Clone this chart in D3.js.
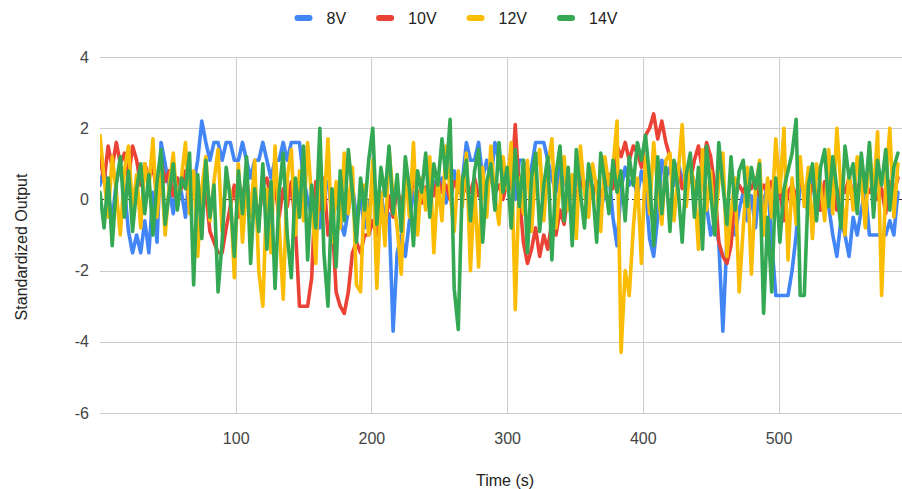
<!DOCTYPE html>
<html>
<head>
<meta charset="utf-8">
<script src="https://cdn.jsdelivr.net/npm/d3@7"></script>
<style>
  html, body { margin: 0; padding: 0; background: #fff; }
  svg { display: block; font-family: Arial, "Liberation Sans", sans-serif; }
</style>
</head>
<body>
<svg id="chart" width="902" height="489"></svg>
<script>
// ---- data (one sample every 3 s) ----
const seriesNames = ["8V", "10V", "12V", "14V"];
const seriesColors = ["#4285F4", "#EA4335", "#FBBC04", "#34A853"];
const timeStep = 3;
const yTicks = [4, 2, 0, -2, -4, -6];
const xTicks = [100, 200, 300, 400, 500];

const v8 = [
  0.4, 0.9, 0.2, -0.6, 0.5, 1.0, 0.3, -0.9, -1.5, -1.0,
  -1.5, -0.6, -1.5, 0.2, -1.2, 1.6, 1.0, 0.3, -0.4, 0.6,
  0.2, -0.5, 0.8, 0.4, 1.1, 2.2, 1.6, 1.1, 1.6, 1.6,
  1.1, 1.6, 1.6, 1.1, 1.1, 1.6, 1.1, 0.6, 1.1, 1.1,
  1.6, 1.1, 0.6, 1.1, 1.1, 1.6, 1.1, 1.6, 1.6, 1.6,
  0.6, 0.0, -0.5, 0.3, -0.8, 0.2, 0.5, -0.4, 0.1, -0.6,
  -1.0, -0.3, 0.4, -0.5, 0.0, -0.8, -0.2, 0.3, -0.5, 0.2,
  -0.6, -0.4, -3.7, -1.5, -1.0, -1.6, -0.6, 0.2, -0.3, 0.4,
  0.3, -0.2, 0.5, 0.1, 0.6, -0.1, 0.4, 0.8, 0.2, 0.5,
  1.6, 1.1, 1.1, 1.6, 0.6, 1.1, 0.5, 1.6, 1.1, 0.6,
  0.3, 0.5, 0.0, 1.1, 1.1, 0.6, 0.9, 1.6, 1.6, 1.6,
  1.1, 0.6, 0.2, 0.9, 0.4, 0.7, 0.1, 0.5, 0.8, 0.3,
  0.6, 0.1, 0.4, -0.3, 0.2, 0.7, -0.5, -1.3, 0.3, 0.9,
  0.4, 0.6, 0.1, 0.8, 0.3, -1.1, -1.6, -0.5, 1.1, 0.6,
  0.9, 0.4, 1.0, 0.6, 0.2, 0.8, 0.5, 0.1, 0.7, -0.2,
  -1.0, -0.6, -1.2, -3.7, -1.1, -0.5, -1.0, -0.3, 0.2, -0.6,
  0.1, -0.8, 0.4, -0.2, 0.5, -1.2, -2.7, -2.7, -2.7, -2.7,
  -2.0, -1.0, 0.5, 0.2, -0.4, 0.6, 0.1, -0.3, 0.4, -0.2,
  -1.0, -1.6, -0.6, -1.0, -1.6, -0.5, -1.0, -0.3, 0.3, -1.0,
  -1.0, -1.0, -1.0, -1.0, -0.6, -1.0, 0.2
];
const v10 = [
  1.2, 0.5, 1.5, 0.9, 1.6, 1.0, 1.3, 0.6, 1.5, 1.1,
  0.4, 1.0, 0.6, 0.9, 0.2, 1.1, 0.5, 0.8, 0.1, 0.6,
  0.3, 0.8, -0.2, 0.5, 0.1, -0.4, 0.2, -0.9, -1.2, -1.5,
  -1.5, -0.8, -0.2, 0.4, -0.5, 0.1, 0.6, -0.3, 0.2, -0.6,
  0.4, 0.6, 0.0, 0.4, -0.5, 0.3, -0.2, 0.5, -0.8, -3.0,
  -3.0, -3.0, -2.2, 0.5, -0.3, 0.6, -1.0, -0.5, -2.6, -3.0,
  -3.2, -2.6, -1.5, -1.2, -1.5, -1.0, -1.0, -0.6, -1.0, -0.3,
  -0.8, 0.1, -0.5, 0.3, -0.2, 0.4, 0.0, 0.5, 0.2, -0.1,
  0.3, 0.5, 0.1, 0.6, 0.2, 0.4, 0.0, 0.5, 0.3, 0.1,
  0.4, 0.2, 0.6, 0.1, 0.5, 0.3, 0.7, 0.2, 0.4, 0.0,
  0.5, 0.3, 2.1, 0.2, -1.2, -1.8, -1.4, -0.8, -1.6, -1.0,
  -1.4, -0.6, -1.0, -0.3, -0.7, 0.2, 0.4, 0.1, 0.5, 0.3,
  0.6, 0.2, 0.5, 0.1, 0.4, 0.7, 0.3, 1.5, 1.2, 1.6,
  1.1, 1.5, 1.3, 0.9, 1.8, 2.0, 2.4, 1.7, 2.2, 1.6,
  1.2, 0.6, 0.9, 0.3, 0.7, 0.5, 1.1, 1.5, 0.8, 1.6,
  1.2, 0.4, -1.2, -1.6, -1.8, -1.3, 0.1, 0.4, 0.2, 0.5,
  0.3, 0.6, 0.1, 0.4, 0.2, 0.5, 0.0, 0.3, -0.6, 0.2,
  0.4, 0.1, 0.5, 0.3, 0.0, 0.4, 0.2, -0.3, 0.5, 0.1,
  0.3, -0.3, 0.4, 0.2, 0.6, 0.1, 0.4, 0.3, 0.5, 0.2,
  0.4, 0.0, 0.3, -0.4, 0.5, 0.2, 0.6
];
const v12 = [
  1.8, 0.6, -0.5, 1.2, 0.2, -1.0, 0.8, 1.5, -0.3, 0.7,
  -0.8, 1.0, 0.3, 1.7, -0.5, 0.9, -1.0, 0.4, 1.3, -0.2,
  0.6, 1.6, -0.4, 0.8, -1.6, 0.3, 1.2, -0.6, 0.5, 1.4,
  -0.9, 0.7, 0.2, -2.2, 1.0, -1.2, 0.4, -0.5, 1.1, -2.0,
  -3.0, 0.3, -1.5, 1.5, -0.7, -2.8, 0.6, 1.4, -1.0, 0.8,
  -0.6, 1.6, 0.0, -1.8, 1.2, -0.3, 1.7, -1.2, 0.5, -0.8,
  1.3, -0.4, 0.9, -2.4, -2.6, 0.4, -1.0, 1.1, -2.5, 0.2,
  -1.3, 1.4, 0.1, -0.8, -2.1, 0.9, -0.5, 1.6, -1.0, 0.6,
  -0.3, 1.2, -1.5, 0.5, -0.6, 1.5, 0.2, -0.9, 0.8, -0.2,
  1.3, -2.0, 0.4, -1.9, 0.9, -0.5, 1.5, 0.1, -0.7, 1.2,
  0.3, 1.6, -3.1, 0.6, -0.4, 1.1, -0.9, 0.8, 1.4, -0.6,
  0.9, 1.7, -0.8, 0.4, 1.2, -0.3, 0.7, -1.1, 1.5, 0.2,
  -0.5, 1.0, 0.3, -0.9, 1.2, 0.4, 0.9, 2.2, -4.3, -2.0,
  -2.7, -0.8, 0.6, -1.8, 1.2, -0.4, 1.6, 0.3, -0.7, 1.1,
  1.3, -0.6, 0.7, 2.1, -0.2, 1.0, 0.4, -1.4, 1.4, -0.3,
  0.8, -0.9, 0.5, 1.3, -1.6, -0.4, 0.6, -2.6, -0.8, 0.9,
  -2.1, 0.3, 1.1, -1.0, 0.6, -0.5, 1.7, 0.2, 2.0, -1.7,
  0.6, -0.7, 1.2, -0.2, 0.9, -1.1, 1.0, 0.4, -0.6, 1.4,
  -0.4, 2.0, 0.3, -1.0, 0.8, -0.3, 1.2, 0.5, -0.8, 1.5,
  0.1, 1.9, -2.7, 0.4, 2.0, -0.5, 1.0
];
const v14 = [
  0.2, -0.8, 0.6, -1.3, 0.4, 1.2, -0.5, 0.8, -0.9, 0.3,
  1.0, -0.4, 0.7, -1.0, 0.5, 1.4, -0.7, 0.2, 1.0, -0.3,
  0.6, 0.3, 1.3, -2.4, 0.7, -1.1, 1.1, -0.5, 0.4, -2.6,
  -1.2, 0.9, 0.0, -1.6, 0.8, -0.4, 1.2, -1.8, 0.3, -0.9,
  1.0, -1.4, 0.5, -2.5, 0.2, 1.3, -1.0, -2.2, 0.6, -0.5,
  1.5, -1.7, 0.4, -0.8, 2.0, -1.5, -3.0, 0.3, -1.9, 0.8,
  -0.6, 1.4, 0.2, -1.2, 0.6, -0.3, 1.1, 2.0, -0.7, 0.9,
  0.1, 1.5, -0.4, 0.7, -0.9, 1.2, 0.3, -1.3, 0.8, 0.2,
  1.3, -0.5, 1.0, 0.4, 1.7, 0.6, 2.25, -2.5, -3.65, 0.5,
  1.1, -0.6, 0.8, 1.4, -1.2, 0.5, 1.0, -0.3, 1.6, 0.2,
  0.9, -0.8, 1.4, -0.2, 1.1, -1.5, 0.6, 1.3, -0.9, 0.4,
  1.2, -1.7, 0.7, 1.5, -0.6, 0.9, -1.3, 1.4, 0.2, -0.8,
  1.0, 0.3, -1.2, 1.3, 0.5, -0.4, 1.1, 0.2, 0.8, -0.6,
  1.2, 0.4, 1.6, 1.1, 1.8, 0.6, -1.3, 1.2, -0.4, 0.9,
  -0.9, 1.1, 0.3, -1.2, 0.7, 1.3, -0.5, 0.9, -1.4, 1.5,
  0.2, -1.0, 1.6, 0.4, -0.7, 1.2, -0.3, 0.8, 1.1, -0.2,
  0.9, 0.3, 1.0, -3.2, -0.5, -2.6, 0.6, -1.2, 0.3, 0.8,
  1.3, 2.25, -2.7, -2.7, 0.4, 1.0, -0.6, 0.9, 1.4, -0.2,
  1.2, 0.3, -0.8, 1.5, 0.6, 1.0, -0.4, 1.3, 0.2, 1.6,
  -0.5, 1.1, 0.4, 1.4, -0.3, 0.9, 1.3
];
const seriesValues = [v8, v10, v12, v14];

// ---- layout ----
const W = 902, H = 489;
const plot = { left: 100, right: 902, top: 57, bottom: 413 };

const svg = d3.select("#chart");
const x = d3.scaleLinear().domain([0, 591]).range([plot.left, plot.right]);
const y = d3.scaleLinear().domain([-6, 4]).range([plot.bottom, plot.top]);

// gridlines
const grid = svg.append("g");
grid.selectAll("line.h").data(yTicks.filter(d => d !== 0)).join("line")
  .attr("x1", plot.left).attr("x2", plot.right)
  .attr("y1", d => Math.round(y(d)) + 0.5).attr("y2", d => Math.round(y(d)) + 0.5)
  .attr("stroke", "#cccccc").attr("stroke-width", 1);
grid.selectAll("line.v").data(xTicks).join("line")
  .attr("x1", d => Math.round(x(d)) + 0.5).attr("x2", d => Math.round(x(d)) + 0.5)
  .attr("y1", plot.top).attr("y2", plot.bottom)
  .attr("stroke", "#cccccc").attr("stroke-width", 1);
// baseline
grid.append("line")
  .attr("x1", plot.left).attr("x2", plot.right)
  .attr("y1", Math.round(y(0)) + 0.5).attr("y2", Math.round(y(0)) + 0.5)
  .attr("stroke", "#333").attr("stroke-width", 1.2)
  .attr("stroke-dasharray", "4,3");

// axes (labels only)
const yAxis = d3.axisLeft(y).tickValues(yTicks).tickSize(0).tickPadding(0).tickFormat(d => String(d));
const gy = svg.append("g").attr("transform", `translate(${plot.left - 11},0)`).call(yAxis);
gy.select(".domain").remove();
gy.selectAll("text").attr("fill", "#444").attr("font-size", 16).attr("font-family", "Arial, 'Liberation Sans', sans-serif");

const xAxis = d3.axisBottom(x).tickValues(xTicks).tickSize(0).tickPadding(0);
const gx = svg.append("g").attr("transform", `translate(0,${plot.bottom + 20})`).call(xAxis);
gx.select(".domain").remove();
gx.selectAll("text").attr("fill", "#444").attr("font-size", 16).attr("font-family", "Arial, 'Liberation Sans', sans-serif");

// clip
svg.append("clipPath").attr("id", "clip").append("rect")
  .attr("x", plot.left).attr("y", 0).attr("width", plot.right - plot.left).attr("height", H);

const line = d3.line()
  .x((d, i) => x(i * timeStep))
  .y(d => y(d))
  .curve(d3.curveLinear);

svg.append("g").attr("clip-path", "url(#clip)")
  .selectAll("path").data(seriesValues).join("path")
  .attr("d", d => line(d))
  .attr("fill", "none")
  .attr("stroke", (d, i) => seriesColors[i])
  .attr("stroke-width", 3.6)
  .attr("stroke-linejoin", "round")
  .attr("stroke-linecap", "round");

// axis titles
svg.append("text").attr("x", 505).attr("y", 486)
  .attr("text-anchor", "middle").attr("font-size", 16).attr("fill", "#222")
  .text("Time (s)");
svg.append("text")
  .attr("transform", `translate(27,${(plot.top + plot.bottom) / 2 + 12}) rotate(-90)`)
  .attr("text-anchor", "middle").attr("font-size", 16).attr("fill", "#222")
  .text("Standardized Output");

// legend
const legend = svg.append("g").attr("transform", "translate(0,18)");
const items = legend.selectAll("g").data(seriesNames).join("g");
items.append("rect").attr("width", 18).attr("height", 6).attr("y", -3).attr("rx", 3)
  .attr("fill", (d, i) => seriesColors[i]);
items.append("text").attr("x", 32).attr("y", 6).attr("font-size", 16).attr("fill", "#222")
  .text(d => d);
let cx = 0;
const offs = [];
items.each(function () {
  offs.push(cx);
  const w = this.querySelector("text").getComputedTextLength();
  cx += 32 + w + 30;
});
const totalW = cx - 30;
const start = 456 - totalW / 2;
items.attr("transform", (d, i) => `translate(${start + offs[i]},0)`);
</script>
</body>
</html>
